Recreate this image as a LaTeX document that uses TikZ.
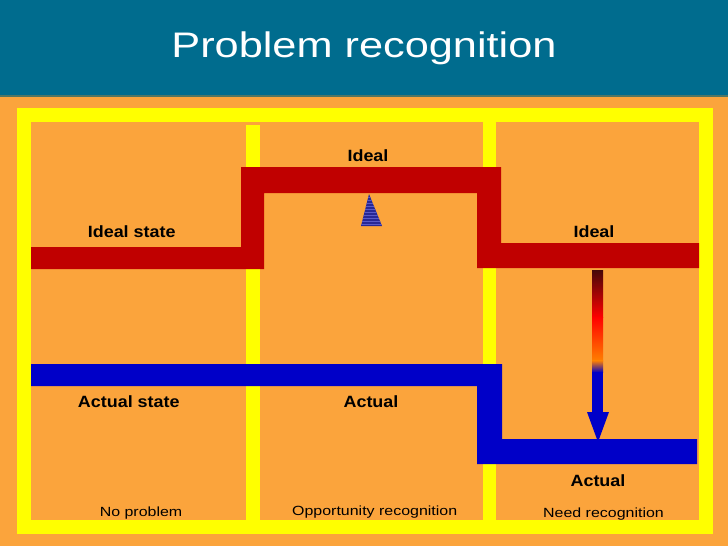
\documentclass[tikz,border=0pt]{standalone}
\usepackage{fontspec}
\setmainfont{Liberation Sans}
\newfontfamily\titlefont[FakeStretch=1.22]{Liberation Sans}
\newfontfamily\lblfont[FakeStretch=1.1]{Liberation Sans}
\newfontfamily\capfont[FakeStretch=1.2]{Liberation Sans}
\definecolor{bgorange}{RGB}{251,164,60}
\definecolor{titleteal}{RGB}{0,108,142}
\definecolor{tealline}{RGB}{80,118,100}
\definecolor{frameyellow}{RGB}{255,255,0}
\definecolor{idealred}{RGB}{192,0,0}
\definecolor{actualblue}{RGB}{0,0,200}
\definecolor{darkred}{RGB}{70,8,8}
\definecolor{midorange}{RGB}{255,128,0}
\definecolor{tridark}{RGB}{40,40,150}
\definecolor{trilight}{RGB}{90,90,200}
\begin{document}
\begin{tikzpicture}[x=1pt,y=-1pt,
  lblstyle/.style={font=\lblfont\bfseries\fontsize{16.3}{18}\selectfont,inner sep=0pt,anchor=base,text=black},
  capstyle/.style={font=\capfont\fontsize{13.3}{15}\selectfont,inner sep=0pt,anchor=base,text=black},
  titlestyle/.style={font=\titlefont\fontsize{35.5}{40}\selectfont,inner sep=0pt,anchor=base,text=white}]
\useasboundingbox (0,0) rectangle (728,546);
% background
\fill[bgorange] (0,0) rectangle (728,546);
\fill[titleteal] (0,0) rectangle (728,96);
\fill[tealline] (0,95) rectangle (728,97);
\node[titlestyle] (title) at (364,57) {Problem recognition};
% yellow frame
\fill[frameyellow] (17,108) rectangle (713,534);
\fill[bgorange] (31,122) rectangle (699,520);
\fill[frameyellow] (246,125) rectangle (260,520);
\fill[frameyellow] (483,122) rectangle (496,520);
% ideal (red) line
\fill[idealred] (31,247) -- (241,247) -- (241,167) -- (501,167) -- (501,243)
  -- (699,243) -- (699,268) -- (477,268) -- (477,193) -- (264,193)
  -- (264,269) -- (31,269) -- cycle;
% actual (blue) line
\fill[actualblue] (31,364) -- (502,364) -- (502,439) -- (697,439) -- (697,464)
  -- (477,464) -- (477,386) -- (31,386) -- cycle;
% gradient arrow
\shade[top color=darkred,bottom color=red] (592,270) rectangle (603,317.5);
\shade[top color=red,bottom color=midorange] (592,317) rectangle (603,361);
\shade[top color=midorange,bottom color=actualblue] (592,360.5) rectangle (603,372.5);
\fill[actualblue] (592,372) rectangle (603,413);
\fill[actualblue] (587,412) -- (609,412) -- (598,442) -- cycle;
% striped triangle
\begin{scope}
\clip (369,194) -- (382,226) -- (361,226) -- cycle;
\fill[tridark] (355,190) rectangle (390,230);
\foreach \yy in {197,200,...,226} {\fill[trilight] (355,\yy) rectangle (390,\yy+1.2);}
\end{scope}
% labels
\node[lblstyle] (idealstate) at (131.7,237.7) {Ideal state};
\node[lblstyle] (idealmid) at (368,161) {Ideal};
\node[lblstyle] (idealright) at (594,237) {Ideal};
\node[lblstyle] (actualstate) at (128.8,407.5) {Actual state};
\node[lblstyle] (actualmid) at (371,407.5) {Actual};
\node[lblstyle] (actualright) at (598,486) {Actual};
\node[capstyle] (noproblem) at (141,516) {No problem};
\node[capstyle] (opportunity) at (374.7,515.7) {Opportunity recognition};
\node[capstyle] (need) at (603.5,517) {Need recognition};
\end{tikzpicture}
\end{document}
